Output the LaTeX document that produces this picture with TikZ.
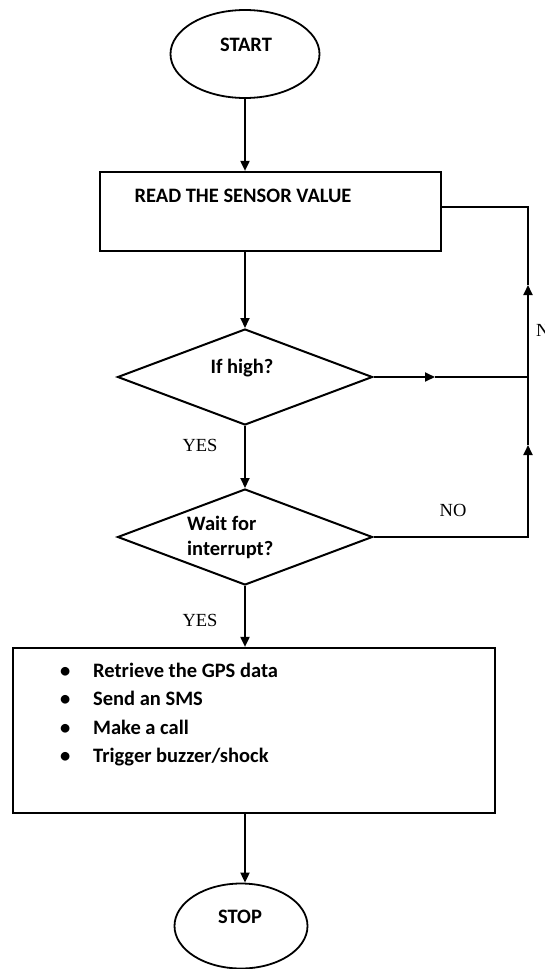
\documentclass[tikz,border=0pt]{standalone}
\usepackage{fontspec}
\setmainfont{Carlito}
\newfontfamily\serifnote{Liberation Serif}
\usetikzlibrary{shapes.geometric, arrows.meta}

\begin{document}
\begin{tikzpicture}[x=1pt, y=-1pt,
        % Estilo para inicio y fin
        terminal/.style={
                ellipse,
                draw,
                line width=1.8pt,
                inner sep=0pt
            },
        % Estilo para procesos
        process/.style={
                rectangle,
                draw,
                line width=2.2pt,
                inner sep=0pt
            },
        % Estilo para decisiones
        decision/.style={
                diamond,
                draw,
                line width=2pt,
                inner sep=0pt,
                minimum width=255pt,
                minimum height=96pt
            },
        boxtext/.style={
                font=\fontsize{20.5}{25}\selectfont\bfseries,
                inner sep=0pt
            },
        answer/.style={
                font=\serifnote\fontsize{18.5}{20}\selectfont,
                inner sep=0pt
            },
        flow/.style={
                line width=1.9pt,
                -{Triangle[length=10pt, width=9pt]}
            },
        plain/.style={
                line width=1.9pt
            }
    ]

    \useasboundingbox (0,0) rectangle (544,969);

    % INICIO
    \node[terminal, minimum width=149pt, minimum height=88pt] (start) at (245,54) {};
    \node[boxtext] (starttxt) at (246,45) {START};

    % LECTURA
    \node[process, minimum width=341pt, minimum height=79pt] (read) at (270.5,211.5) {};
    \node[boxtext] (readtxt) at (243,196) {READ THE SENSOR VALUE};

    % DECISIONES
    \node[decision] (high) at (245,377) {};
    \node[boxtext] (hightxt) at (242,368) {If high?};
    \node[decision] (wait) at (245,537) {};
    \node[boxtext, align=left, anchor=west] (waittxt) at (187,537) {Wait for\\interrupt?};

    % ACCIONES
    \node[process, minimum width=482pt, minimum height=165pt] (act) at (254,730.5) {};
    \node[boxtext, font=\fontsize{20.5}{28.3}\selectfont\bfseries, align=left, anchor=north west] (acttxt) at (60,663) {%
        \makebox[33pt][l]{\textbullet}Retrieve the GPS data\\
        \makebox[33pt][l]{\textbullet}Send an SMS\\
        \makebox[33pt][l]{\textbullet}Make a call\\
        \makebox[33pt][l]{\textbullet}Trigger buzzer/shock};

    % FIN
    \node[terminal, minimum width=133pt, minimum height=85pt] (stop) at (241,926) {};
    \node[boxtext] (stoptxt) at (240,917) {STOP};

    % Puntos del lazo derecho
    \coordinate (rtop) at (528,207);
    \coordinate (rmid) at (528,377);
    \coordinate (rbot) at (528,537);
    \coordinate (up1) at (528,285);
    \coordinate (up2) at (528,445);
    \coordinate (hmid) at (435,377);

    % Flechas principales
    \draw[flow] (start.south) -- (start.south |- read.north);
    \draw[flow] (read.south -| high.north) -- (high.north);
    \draw[flow] (high.south) -- (wait.north);
    \draw[flow] (wait.south) -- (wait.south |- act.north);
    \draw[flow] (act.south -| wait.south) -- (wait.south |- stop.north);

    % Lazo de retorno
    \draw[flow] (high.east) -- (hmid);
    \draw[plain] (hmid) -- (rmid);
    \draw[flow] (wait.east) -- (rbot) -- (up2);
    \draw[flow] (up2) -- (up1);
    \draw[plain] (up1) -- (rtop) -- (rtop -| read.east);

    % Respuestas
    \node[answer] (yes1) at (200,445) {YES};
    \node[answer] (yes2) at (200,620) {YES};
    \node[answer] (no1) at (453,510) {NO};
    \node[answer, anchor=west] (no2) at (536,330) {NO};

\end{tikzpicture}
\end{document}
